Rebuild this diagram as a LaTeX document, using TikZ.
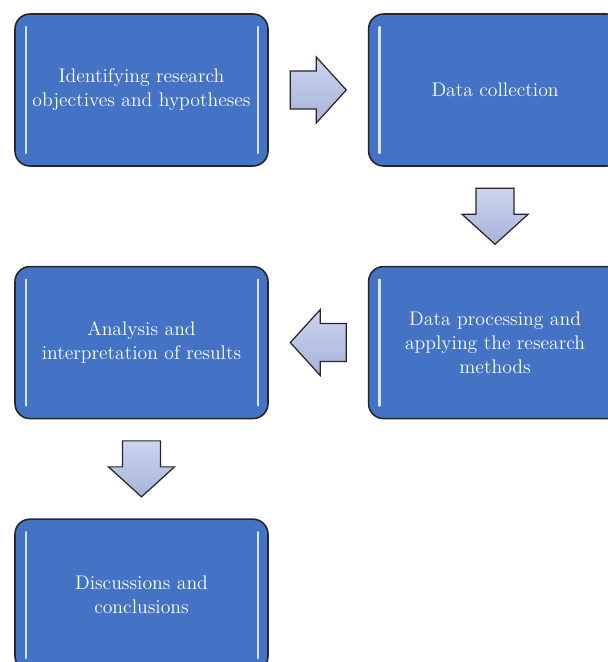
\documentclass[tikz,border=0pt]{standalone}
\usetikzlibrary{positioning,calc}
\definecolor{boxblue}{HTML}{4472C4}
\definecolor{arrowtop}{HTML}{CDD4EE}
\definecolor{arrowbot}{HTML}{A7B3DA}
\definecolor{glint}{HTML}{D6E4FF}
\tikzset{
  stepbox/.style={draw=black!85, line width=0.9pt, fill=boxblue, rounded corners=0.3cm,
    minimum width=5.06cm, minimum height=3.04cm, inner sep=0pt, text=white,
    align=center, font=\fontsize{11.2}{13.6}\selectfont,
    path picture={
      \draw[glint, line width=1.3pt, line cap=round]
        ([xshift=0.22cm,yshift=-0.26cm]path picture bounding box.north west) --
        ([xshift=0.22cm,yshift=0.26cm]path picture bounding box.south west);
      \draw[glint, line width=1.3pt, line cap=round]
        ([xshift=-0.2cm,yshift=-0.26cm]path picture bounding box.north east) --
        ([xshift=-0.2cm,yshift=0.26cm]path picture bounding box.south east);
    }},
  blockarrow/.style={draw=black!85, line width=0.7pt, line join=miter,
    top color=arrowtop, bottom color=arrowbot}
}
\begin{document}
\begin{tikzpicture}
  \useasboundingbox (0,0) rectangle (12.16,13.24);
  % the five stages
  \node[stepbox] (ident) at (2.83,11.44) {Identifying research\\objectives and hypotheses};
  \node[stepbox, right=1.98cm of ident] (collect) {Data collection};
  \node[stepbox, below=1.98cm of collect] (process) {Data processing and\\applying the research\\methods};
  \node[stepbox, left=1.98cm of process] (analysis) {Analysis and\\interpretation of results};
  \node[stepbox, below=1.98cm of analysis] (discuss) {Discussions and\\conclusions};
  % arrows between stages
  \coordinate (a1) at ($(ident.east)!0.5!(collect.west)$);
  \coordinate (a2) at ($(collect.south)!0.5!(process.north)$);
  \coordinate (a3) at ($(process.west)!0.5!(analysis.east)$);
  \coordinate (a4) at ($(analysis.south)!0.5!(discuss.north)$);
  \foreach \c/\ang in {a1/0, a2/-90, a3/180, a4/-90}
  {
    \draw[blockarrow, shift={(\c)}, rotate=\ang]
      (-0.56,0.38) -- (-0.04,0.38) -- (-0.04,0.66) -- (0.56,0) --
      (-0.04,-0.66) -- (-0.04,-0.38) -- (-0.56,-0.38) -- cycle;
  };
\end{tikzpicture}
\end{document}
